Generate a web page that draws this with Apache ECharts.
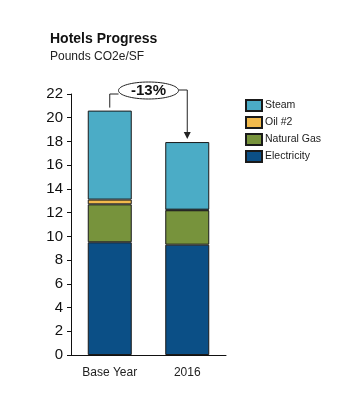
<!DOCTYPE html>
<html>
<head>
<meta charset="utf-8">
<script src="https://cdn.jsdelivr.net/npm/echarts@6/dist/echarts.min.js"></script>
<style>
  html, body { margin: 0; padding: 0; background: #fff; }
  #chart { width: 352px; height: 404px; }
</style>
</head>
<body>
<div id="chart"></div>
<script>
// data
var categories = ['Base Year', '2016'];
var electricity = [9.5, 9.3];
var naturalGas = [3.2, 2.9];
var oil2 = [0.4, 0.05];
var steam = [7.5, 5.7];
var changeLabel = '-13%';
var legendOrder = ['Steam', 'Oil #2', 'Natural Gas', 'Electricity'];

var FONT = '"Liberation Sans", Arial, sans-serif';

function barSeries(name, data, color) {
    return {
        name: name,
        type: 'bar',
        stack: 'total',
        data: data,
        barWidth: 44,
        itemStyle: { color: color, borderColor: '#1a1a1a', borderWidth: 1 },
        emphasis: { disabled: true }
    };
}

var chart = echarts.init(document.getElementById('chart'));
var option = {
    animation: false,
    textStyle: { fontFamily: FONT },
    title: {
        text: 'Hotels Progress',
        subtext: 'Pounds CO2e/SF',
        left: 45,
        top: 27,
        itemGap: 5,
        textStyle: { fontFamily: FONT, fontSize: 14, fontWeight: 'bold', color: '#111' },
        subtextStyle: { fontFamily: FONT, fontSize: 12, color: '#222' }
    },
    legend: {
        data: legendOrder,
        orient: 'vertical',
        left: 245,
        top: 99,
        padding: 0,
        icon: 'rect',
        itemWidth: 16,
        itemHeight: 11,
        itemGap: 4,
        selectedMode: false,
        textStyle: { fontFamily: FONT, fontSize: 10.5, color: '#222', padding: [0, 0, 0, -2] }
    },
    grid: { left: 71, right: 126, top: 94, bottom: 49 },
    xAxis: {
        type: 'category',
        data: categories,
        axisLine: { lineStyle: { color: '#111' } },
        axisTick: { show: false },
        axisLabel: { fontFamily: FONT, fontSize: 12, color: '#222', margin: 12 }
    },
    yAxis: {
        type: 'value',
        min: 0,
        max: 22,
        interval: 2,
        axisLine: { show: true, lineStyle: { color: '#111' } },
        axisTick: { show: true, length: 4, lineStyle: { color: '#111' } },
        splitLine: { show: false },
        axisLabel: { fontFamily: FONT, fontSize: 15, color: '#111', margin: 8 }
    },
    series: [
        barSeries('Electricity', electricity, '#0b4f86'),
        barSeries('Natural Gas', naturalGas, '#77933c'),
        barSeries('Oil #2', oil2, '#f2ba4c'),
        barSeries('Steam', steam, '#4bacc6')
    ]
};
chart.setOption(option);

// annotation bracket drawn from the axis positions of the two stack tops
function total(i) {
    return electricity[i] + naturalGas[i] + oil2[i] + steam[i];
}
var p0 = chart.convertToPixel({ xAxisIndex: 0, yAxisIndex: 0 }, [0, total(0)]);
var p1 = chart.convertToPixel({ xAxisIndex: 0, yAxisIndex: 0 }, [1, total(1)]);
var cx = (p0[0] + p1[0]) / 2;
var cy = 90.5;
var rx = 30, ry = 8.5;
var lineStyle = { stroke: '#222', lineWidth: 1, fill: null };

chart.setOption({
    graphic: [
        { type: 'polyline', shape: { points: [[p0[0], p0[1] - 3], [p0[0], 94], [cx - rx, 94]] }, style: lineStyle },
        { type: 'polyline', shape: { points: [[cx + rx, 90], [p1[0], 90], [p1[0], p1[1] - 9]] }, style: lineStyle },
        { type: 'polygon', shape: { points: [[p1[0] - 3.5, p1[1] - 10], [p1[0] + 3.5, p1[1] - 10], [p1[0], p1[1] - 3]] }, style: { fill: '#222' } },
        { type: 'ellipse', shape: { cx: cx, cy: cy, rx: rx, ry: ry }, style: { fill: '#fff', stroke: '#222', lineWidth: 1 } },
        { type: 'text', x: cx, y: cy, style: { text: changeLabel, fontFamily: FONT, fontSize: 15, fontWeight: 'bold', fill: '#111', align: 'center', verticalAlign: 'middle' } }
    ]
});
</script>
</body>
</html>
